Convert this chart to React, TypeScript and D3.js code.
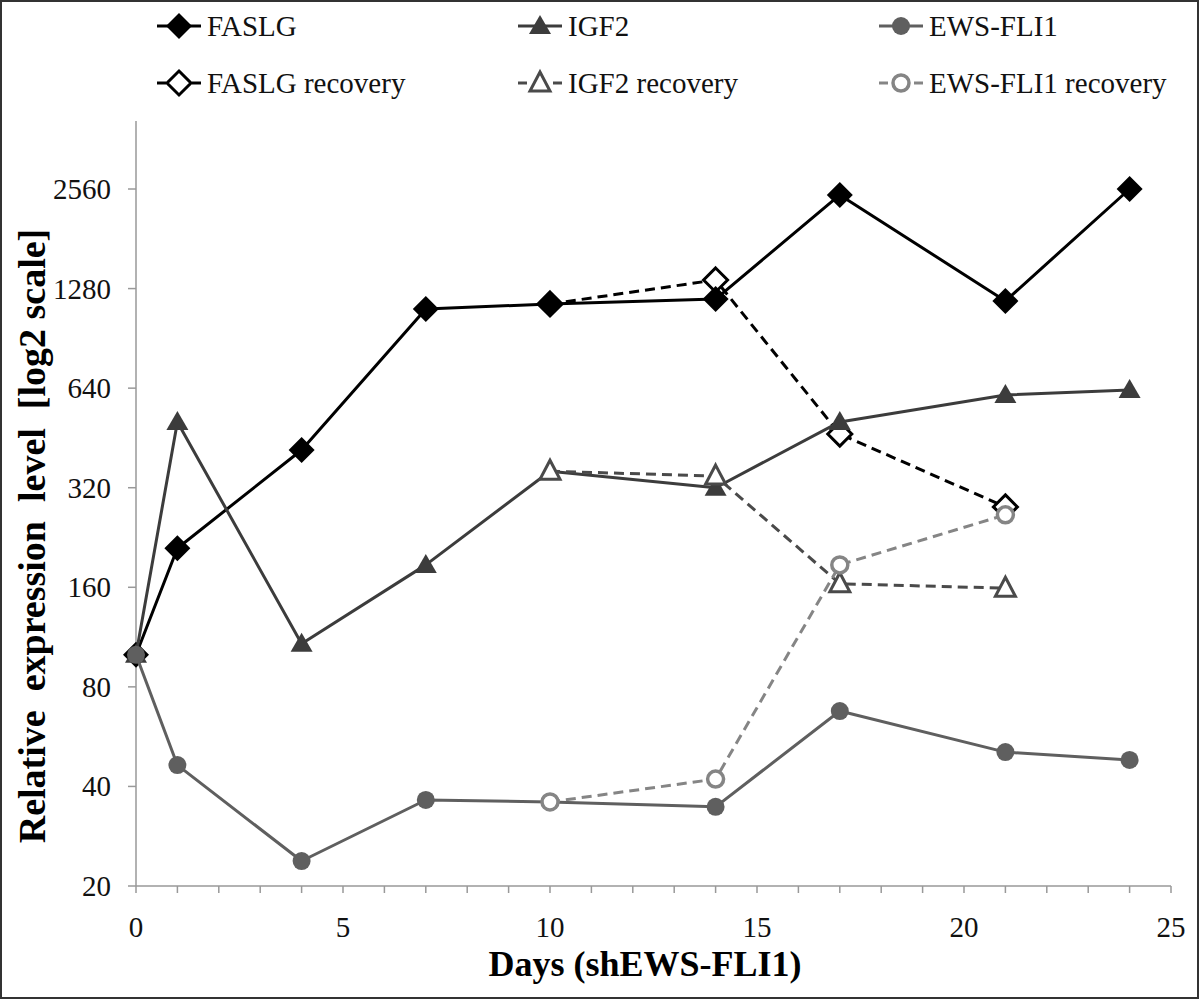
import React, { useEffect } from 'react';
import * as d3 from 'd3';

const days = [0, 1, 4, 7, 10, 14, 17, 21, 24];
const recoveryDays = [10, 14, 17, 21];
const faslg = [100, 210, 416, 1110, 1150, 1190, 2456, 1174, 2560];
const faslgRecovery = [1150, 1359, 465, 280];
const igf2 = [100, 506, 108, 187, 359, 320, 506, 610, 632];
const igf2Recovery = [359, 347, 164, 159];
const ewsFli1 = [100, 46.4, 23.8, 36.4, 35.9, 34.7, 67.6, 50.8, 48.1];
const ewsFli1Recovery = [35.9, 42.1, 187, 265];
const yTicks = [20, 40, 80, 160, 320, 640, 1280, 2560];
const xTickLabels = [0, 5, 10, 15, 20, 25];
const xMinorTicks = d3.range(0, 26);

type Marker = 'diamond' | 'triangle' | 'circle';
interface Series {
  name: string;
  x: number[];
  y: number[];
  color: string;
  marker: Marker;
  open: boolean;
  dashed: boolean;
}

const seriesDrawOrder: Series[] = [
  { name: 'FASLG recovery', x: recoveryDays, y: faslgRecovery, color: '#000000', marker: 'diamond', open: true, dashed: true },
  { name: 'FASLG', x: days, y: faslg, color: '#000000', marker: 'diamond', open: false, dashed: false },
  { name: 'IGF2', x: days, y: igf2, color: '#3c3c3c', marker: 'triangle', open: false, dashed: false },
  { name: 'EWS-FLI1', x: days, y: ewsFli1, color: '#5f5f5f', marker: 'circle', open: false, dashed: false },
  { name: 'IGF2 recovery', x: recoveryDays, y: igf2Recovery, color: '#4a4a4a', marker: 'triangle', open: true, dashed: true },
  { name: 'EWS-FLI1 recovery', x: recoveryDays, y: ewsFli1Recovery, color: '#858585', marker: 'circle', open: true, dashed: true },
];

const legendOrder = ['FASLG', 'IGF2', 'EWS-FLI1', 'FASLG recovery', 'IGF2 recovery', 'EWS-FLI1 recovery'];

const FONT = '"Liberation Serif", "Times New Roman", serif';

function MarkerShape({ type, open, color, cx, cy }: { type: Marker; open: boolean; color: string; cx: number; cy: number }) {
  const fill = open ? '#ffffff' : color;
  const sw = open ? 3 : 0;
  if (type === 'diamond') {
    const r = open ? 12 : 13;
    const d = `M${cx},${cy - r}L${cx + r},${cy}L${cx},${cy + r}L${cx - r},${cy}Z`;
    return <path d={d} fill={fill} stroke={color} strokeWidth={sw} strokeLinejoin="miter" />;
  }
  if (type === 'triangle') {
    const w = open ? 10 : 11;
    const d = `M${cx},${cy - 11}L${cx + w},${cy + 8}L${cx - w},${cy + 8}Z`;
    return <path d={d} fill={fill} stroke={color} strokeWidth={sw} strokeLinejoin="miter" />;
  }
  return <circle cx={cx} cy={cy} r={open ? 8 : 9} fill={fill} stroke={color} strokeWidth={open ? 3.5 : 0} />;
}

export default function App() {
  useEffect(() => {
    document.body.style.margin = '0';
  }, []);

  const x = d3.scaleLinear().domain([0, 25]).range([136, 1171]);
  const y = d3.scaleLog().base(2).domain([20, 4110]).range([886, 121]);
  const line = d3
    .line<[number, number]>()
    .x((d) => x(d[0]))
    .y((d) => y(d[1]));

  const byName: Record<string, Series> = {};
  seriesDrawOrder.forEach((s) => (byName[s.name] = s));

  const legendCols = [157, 518, 879];
  const legendRows = [26, 83];

  return (
    <svg width={1200} height={1000} style={{ position: 'absolute', left: 0, top: 0, background: '#fff' }} fontFamily={FONT}>
      <rect x={0} y={0} width={1200} height={1000} fill="#ffffff" />
      <rect x={1} y={1} width={1197} height={997} fill="none" stroke="#333" strokeWidth={2} />

      {/* axes */}
      <g stroke="#999" strokeWidth={1.5} fill="none">
        <line x1={x(0)} x2={x(0)} y1={y(y.domain()[1])} y2={y(20)} />
        <line x1={x(0)} x2={x(25)} y1={y(20)} y2={y(20)} />
        {xMinorTicks.map((t) => (
          <line key={'xt' + t} x1={x(t)} x2={x(t)} y1={y(20)} y2={y(20) + 7} />
        ))}
        {yTicks.map((t) => (
          <line key={'yt' + t} x1={x(0) - 8} x2={x(0)} y1={y(t)} y2={y(t)} />
        ))}
      </g>
      <g fontSize={29} fill="#111">
        {yTicks.map((t) => (
          <text key={'yl' + t} x={111} y={y(t) + 10} textAnchor="end">
            {t}
          </text>
        ))}
        {xTickLabels.map((t) => (
          <text key={'xl' + t} x={x(t)} y={937} textAnchor="middle">
            {t}
          </text>
        ))}
      </g>

      {/* axis titles */}
      <text x={645} y={976} textAnchor="middle" fontSize={36} fontWeight="bold" fill="#000">
        Days (shEWS-FLI1)
      </text>
      <text
        transform={`translate(45,536) rotate(-90)`}
        textAnchor="middle"
        fontSize={38}
        fontWeight="bold"
        fill="#000"
        style={{ whiteSpace: 'pre' }}
      >
        {'Relative  expression  level  [log2 scale]'}
      </text>

      {/* series */}
      {seriesDrawOrder.map((s) => {
        const pts: [number, number][] = s.x.map((d, i) => [d, s.y[i]]);
        return (
          <g key={s.name}>
            <path
              d={line(pts) || ''}
              fill="none"
              stroke={s.color}
              strokeWidth={3}
              strokeDasharray={s.dashed ? '10,6' : undefined}
              strokeLinejoin="round"
            />
            {pts.map((p, i) => (
              <MarkerShape key={i} type={s.marker} open={s.open} color={s.color} cx={x(p[0])} cy={y(p[1])} />
            ))}
          </g>
        );
      })}

      {/* legend */}
      {legendOrder.map((name, i) => {
        const s = byName[name];
        const col = legendCols[i % 3];
        const cy = legendRows[Math.floor(i / 3)];
        const mx = col + 22;
        return (
          <g key={'lg' + name}>
            {s.dashed ? (
              <g stroke={s.color} strokeWidth={3}>
                <line x1={col} x2={col + 9} y1={cy} y2={cy} />
                <line x1={col + 35} x2={col + 44} y1={cy} y2={cy} />
              </g>
            ) : (
              <line x1={col} x2={col + 44} y1={cy} y2={cy} stroke={s.color} strokeWidth={3} />
            )}
            <MarkerShape type={s.marker} open={s.open} color={s.color} cx={mx} cy={cy} />
            <text x={col + 50} y={cy + 10} fontSize={29} fill="#111">
              {name}
            </text>
          </g>
        );
      })}
    </svg>
  );
}
